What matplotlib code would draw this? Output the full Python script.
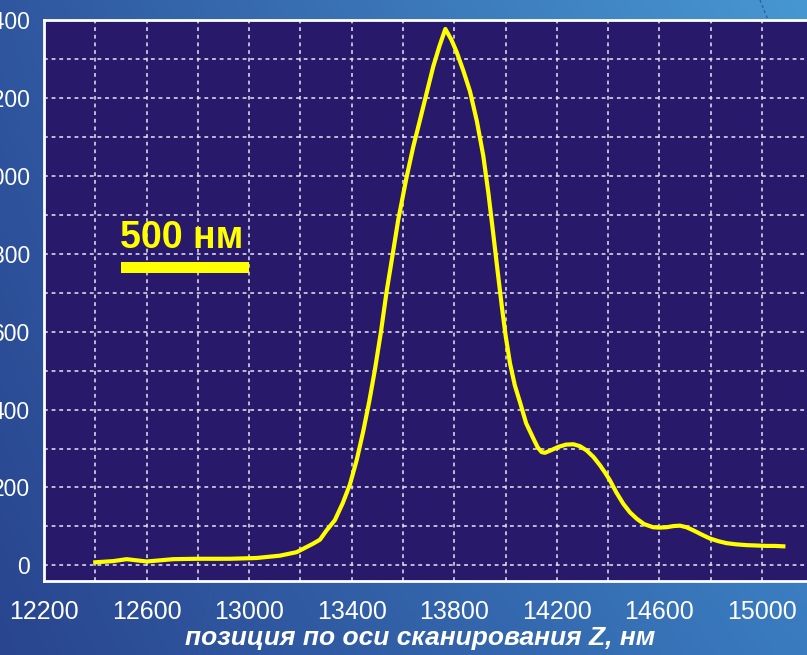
import numpy as np
import matplotlib
matplotlib.use("Agg")
import matplotlib.pyplot as plt
from matplotlib.patches import Rectangle
from matplotlib.colors import to_rgb

# ---------------- data ----------------
z_nm = [12400, 12470, 12522, 12561, 12600, 12652, 12704, 12795, 12925, 13029,
        13120, 13185, 13250, 13276, 13302, 13334, 13365, 13393, 13420, 13445,
        13468, 13490, 13514, 13536, 13560, 13581, 13614, 13640, 13666, 13693,
        13718, 13742, 13765, 13788, 13809, 13835, 13861, 13888, 13913, 13933,
        13952, 13968, 13985, 14000, 14017, 14036, 14056, 14080, 14108, 14125,
        14140, 14153, 14175, 14205, 14235, 14264, 14290, 14316, 14343, 14368,
        14388, 14407, 14432, 14459, 14485, 14511, 14540, 14575, 14600, 14628,
        14655, 14680, 14705, 14732, 14765, 14797, 14830, 14862, 14900, 14940,
        14980, 15018, 15050, 15083]
intensity = [8, 11, 16, 13, 10, 13, 16, 17, 17, 19,
             25, 34, 56, 66, 90, 116, 160, 208, 272, 345,
             420, 501, 600, 703, 800, 886, 997, 1075, 1143, 1215,
             1281, 1333, 1377, 1350, 1318, 1270, 1217, 1140, 1051, 955,
             850, 760, 666, 590, 519, 462, 419, 365, 326, 303,
             291, 289, 295, 304, 310, 311, 306, 295, 278, 257,
             238, 218, 187, 158, 136, 120, 106, 98, 97, 98,
             101, 102, 98, 90, 79, 69, 62, 57, 54, 52,
             51, 50, 50, 49]

x_major = [12200, 12600, 13000, 13400, 13800, 14200, 14600, 15000]
x_minor = list(range(12200, 15301, 200))
y_major = [0, 200, 400, 600, 800, 1000, 1200, 1400]
y_minor = list(range(0, 1401, 100))
x_label = "позиция по оси сканирования Z, нм"
scale_text = "500 нм"
scale_x = [12500, 13000]
scale_y = [750, 780]

plt.rcParams['font.family'] = ["Liberation Sans", "DejaVu Sans"]

# ---------------- figure ----------------
W, H = 807, 655
fig = plt.figure(figsize=(W / 100, H / 100), dpi=100)

# background gradient
bg = fig.add_axes([0, 0, 1, 1], zorder=-10)
bg.set_axis_off()
tl, tr = np.array(to_rgb("#2f57a0")), np.array(to_rgb("#4797d2"))
bl, br = np.array(to_rgb("#29458f")), np.array(to_rgb("#3a7bbf"))
u = np.linspace(0, 1, 200)[None, :, None]
v = np.linspace(0, 1, 160)[:, None, None]
img = (1 - v) * ((1 - u) * tl + u * tr) + v * ((1 - u) * bl + u * br)
bg.imshow(img, aspect='auto', extent=[0, 1, 0, 1], origin='upper')
bg.set_xlim(0, 1)
bg.set_ylim(0, 1)
bg.plot([760 / W, 768 / W], [1, 1 - 20 / H], color="#2e5e9c", lw=1, ls=(0, (2, 2)))
bg.plot([214 / W, 199 / W], [1 - 583 / H, 0], color="#2f5a9a", lw=0.8)

ax = fig.add_axes([44 / W, 0.113, (839 - 44) / W, 0.8565])
ax.set_facecolor("#29196b")
ax.set_xlim(12200, 15300)
ax.set_ylim(-40, 1400)

ax.set_xticks(x_major)
ax.set_xticklabels([str(v) for v in x_major])
ax.set_xticks(x_minor, minor=True)
ax.set_yticks(y_major)
ax.set_yticklabels([str(v) for v in y_major])
ax.set_yticks(y_minor, minor=True)

ax.tick_params(axis='x', which='both', length=0, pad=14, labelsize=18, labelcolor='white')
ax.tick_params(axis='y', which='both', length=0, pad=10, labelsize=16.5, labelcolor='white')

ax.grid(True, which='both', color="#e6e6f2", lw=1.1, ls=(0, (2.5, 2.5)))
ax.set_axisbelow(True)

for s in ax.spines.values():
    s.set_color('white')
    s.set_linewidth(2)

ax.plot(z_nm, intensity, color="#ffff00", lw=3, solid_joinstyle='round', zorder=5)

# scale bar
ax.add_patch(Rectangle((scale_x[0], scale_y[0]), scale_x[1] - scale_x[0],
                       scale_y[1] - scale_y[0], color="#ffff00", lw=0, zorder=6))
ax.text(sum(scale_x) / 2 - 15, 814, scale_text, color="#ffff00", fontsize=27,
        fontweight='bold', ha='center', va='baseline', zorder=6)

fig.text(420 / W, 1 - 638 / H, x_label, color='white', fontsize=19,
         fontweight='bold', fontstyle='italic', ha='center', va='center')

fig.savefig("out.png", dpi=100)
